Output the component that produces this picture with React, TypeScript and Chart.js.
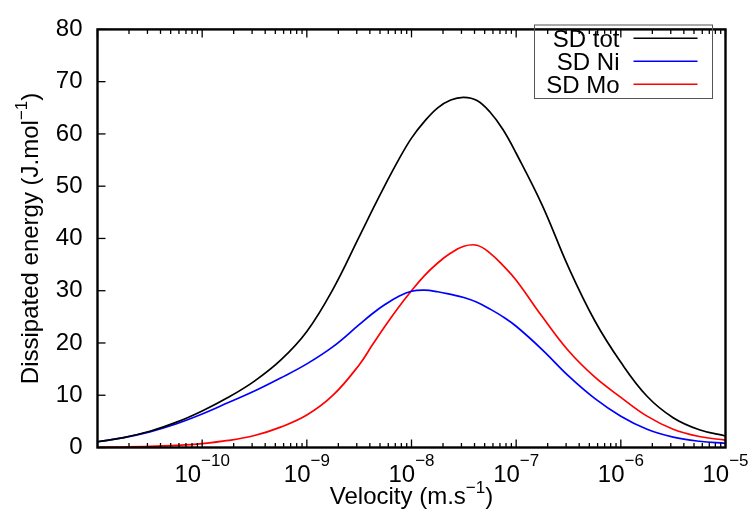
import React, { useEffect, useRef } from "react";
import { Chart, registerables } from "chart.js";

Chart.register(...registerables);

// ---- data ----
const velocity = [
  1e-11, 1.78e-11, 3.16e-11, 5.62e-11,
  1e-10, 1.78e-10, 3.16e-10, 5.62e-10,
  1e-9, 1.78e-9, 3.16e-9, 4.22e-9, 5.62e-9, 7.5e-9,
  1e-8, 1.33e-8, 1.78e-8, 2.37e-8, 3.16e-8, 4.22e-8, 5.62e-8, 7.5e-8,
  1e-7, 1.78e-7, 3.16e-7, 5.62e-7,
  1e-6, 1.78e-6, 3.16e-6, 5.62e-6,
  1e-5,
];
const sdTot = [
  1.1, 1.9, 3.1, 4.8,
  7.0, 9.6, 12.7, 16.7,
  22.2, 30.3, 40.3, 45.4, 50.3, 55.0,
  59.2, 62.4, 65.0, 66.5, 67.0, 66.4, 64.2, 60.8,
  56.3, 46.3, 34.5, 24.3,
  16.3, 9.8, 5.7, 3.4,
  2.2,
];
const sdNi = [
  1.1, 1.9, 3.0, 4.5,
  6.4, 8.6, 10.8, 13.3,
  16.0, 19.3, 23.5, 25.6, 27.4, 28.9,
  29.9, 30.1, 29.8, 29.3, 28.7, 27.8, 26.5, 25.0,
  23.2, 18.7, 13.7, 9.4,
  6.0, 3.5, 2.0, 1.2,
  0.8,
];
const sdMo = [
  0.05, 0.1, 0.2, 0.4,
  0.75, 1.35, 2.3, 3.9,
  6.2, 10.0, 15.8, 19.6, 23.3, 26.8,
  30.0, 32.9, 35.3, 37.2, 38.5, 38.7, 37.2, 34.8,
  32.0, 25.0, 18.5, 13.5,
  9.6, 6.0, 3.5, 2.1,
  1.4,
];
const seriesNames = ["SD tot", "SD Ni", "SD Mo"];
const seriesColors = ["#000000", "#0000ff", "#ff0000"];
const xTickExponents = [-10, -9, -8, -7, -6, -5];
const xMin = 1e-11;
const xMax = 1e-5;
const yMin = 0;
const yMax = 80;
const yStep = 10;

const FONT = "'Liberation Sans', Arial, sans-serif";
const BASE = 24;
const SUP = 17;

function drawSup(
  ctx: CanvasRenderingContext2D,
  base: string,
  sup: string,
  tail: string,
  cx: number,
  baseline: number,
  rise: number
) {
  ctx.font = `${BASE}px ${FONT}`;
  const wb = ctx.measureText(base).width;
  const wt = tail ? ctx.measureText(tail).width : 0;
  ctx.font = `${SUP}px ${FONT}`;
  const ws = ctx.measureText(sup).width;
  let x = cx - (wb + ws + wt) / 2;
  ctx.textAlign = "left";
  ctx.textBaseline = "alphabetic";
  ctx.font = `${BASE}px ${FONT}`;
  ctx.fillText(base, x, baseline);
  x += wb;
  ctx.font = `${SUP}px ${FONT}`;
  ctx.fillText(sup, x, baseline - rise);
  x += ws;
  if (tail) {
    ctx.font = `${BASE}px ${FONT}`;
    ctx.fillText(tail, x, baseline);
  }
}

const decoPlugin = {
  id: "deco",
  afterDraw(chart: any) {
    const ctx: CanvasRenderingContext2D = chart.ctx;
    const { left, right, top, bottom } = chart.chartArea;
    const xs = chart.scales.x;
    const ys = chart.scales.y;
    ctx.save();
    ctx.strokeStyle = "#000";
    ctx.fillStyle = "#000";
    const line = (x1: number, y1: number, x2: number, y2: number) => {
      ctx.beginPath();
      ctx.moveTo(x1, y1);
      ctx.lineTo(x2, y2);
      ctx.stroke();
    };
    // x ticks (major + minor), bottom and top
    ctx.lineWidth = 1.3;
    for (let e = -11; e <= -5; e++) {
      for (let k = 1; k <= 9; k++) {
        const v = k * Math.pow(10, e);
        if (v < xMin * 0.999 || v > xMax * 1.001) continue;
        const px = xs.getPixelForValue(v);
        const len = k === 1 ? 8 : 4.5;
        line(px, bottom, px, bottom - len);
        line(px, top, px, top + len);
      }
    }
    // y ticks (left only)
    for (let v = yMin; v <= yMax; v += yStep) {
      const py = ys.getPixelForValue(v);
      line(left, py, left + 8, py);
    }
    // frame
    ctx.lineWidth = 2.4;
    ctx.strokeRect(left, top, right - left, bottom - top);

    // x tick labels
    for (const e of xTickExponents) {
      const px = xs.getPixelForValue(Math.pow(10, e));
      drawSup(ctx, "10", "\u2212" + Math.abs(e), "", px, 482, 16);
    }
    // x title
    drawSup(ctx, "Velocity (m.s", "\u22121", ")", (left + right) / 2, 504, 11.5);
    // y title
    ctx.save();
    ctx.translate(38, (top + bottom) / 2);
    ctx.rotate(-Math.PI / 2);
    drawSup(ctx, "Dissipated energy (J.mol", "\u22121", ")", 0, 0, 11.5);
    ctx.restore();

    // legend
    const bx = 534.5, by = 25, bw = 178, bh = 73.5;
    ctx.lineWidth = 1;
    ctx.strokeStyle = "#555";
    ctx.strokeRect(bx, by, bw, bh);
    ctx.font = `${BASE}px ${FONT}`;
    ctx.textAlign = "right";
    ctx.textBaseline = "alphabetic";
    seriesNames.forEach((name, i) => {
      const cy = 38.3 + i * 23;
      ctx.fillStyle = "#000";
      ctx.fillText(name, 619.5, cy + 8.5);
      ctx.strokeStyle = seriesColors[i];
      ctx.lineWidth = 1.6;
      line(633.5, cy, 697.5, cy);
    });
    ctx.restore();
  },
};

export default function App() {
  const ref = useRef<HTMLCanvasElement | null>(null);
  useEffect(() => {
    if (!ref.current) return;
    const series = [sdTot, sdNi, sdMo];
    const chart = new Chart(ref.current, {
      type: "line",
      data: {
        datasets: series.map((vals, i) => ({
          label: seriesNames[i],
          data: velocity.map((v, j) => ({ x: v, y: vals[j] })),
          borderColor: seriesColors[i],
          backgroundColor: seriesColors[i],
          borderWidth: 1.7,
          pointRadius: 0,
          tension: 0.4,
          fill: false,
        })),
      },
      options: {
        responsive: false,
        animation: false,
        events: [],
        layout: { padding: { left: 0, right: 25.5, top: 19, bottom: 0 } },
        plugins: { legend: { display: false }, tooltip: { enabled: false } },
        scales: {
          x: {
            type: "logarithmic",
            min: xMin,
            max: xMax,
            grid: { display: false },
            border: { display: false },
            ticks: { display: false },
            afterFit: (s: any) => {
              s.height = 65.5;
            },
          },
          y: {
            type: "linear",
            min: yMin,
            max: yMax,
            grid: { display: false, drawTicks: false },
            border: { display: false },
            ticks: {
              stepSize: yStep,
              color: "#000",
              padding: 15,
              font: { family: FONT, size: BASE },
            },
            afterFit: (s: any) => {
              s.width = 97.5;
            },
          },
        },
      },
      plugins: [decoPlugin],
    });
    return () => chart.destroy();
  }, []);
  return (
    <div style={{ position: "absolute", left: 0, top: 0, width: 751, height: 513, background: "#fff" }}>
      <canvas ref={ref} width={751} height={513} style={{ display: "block" }} />
    </div>
  );
}
